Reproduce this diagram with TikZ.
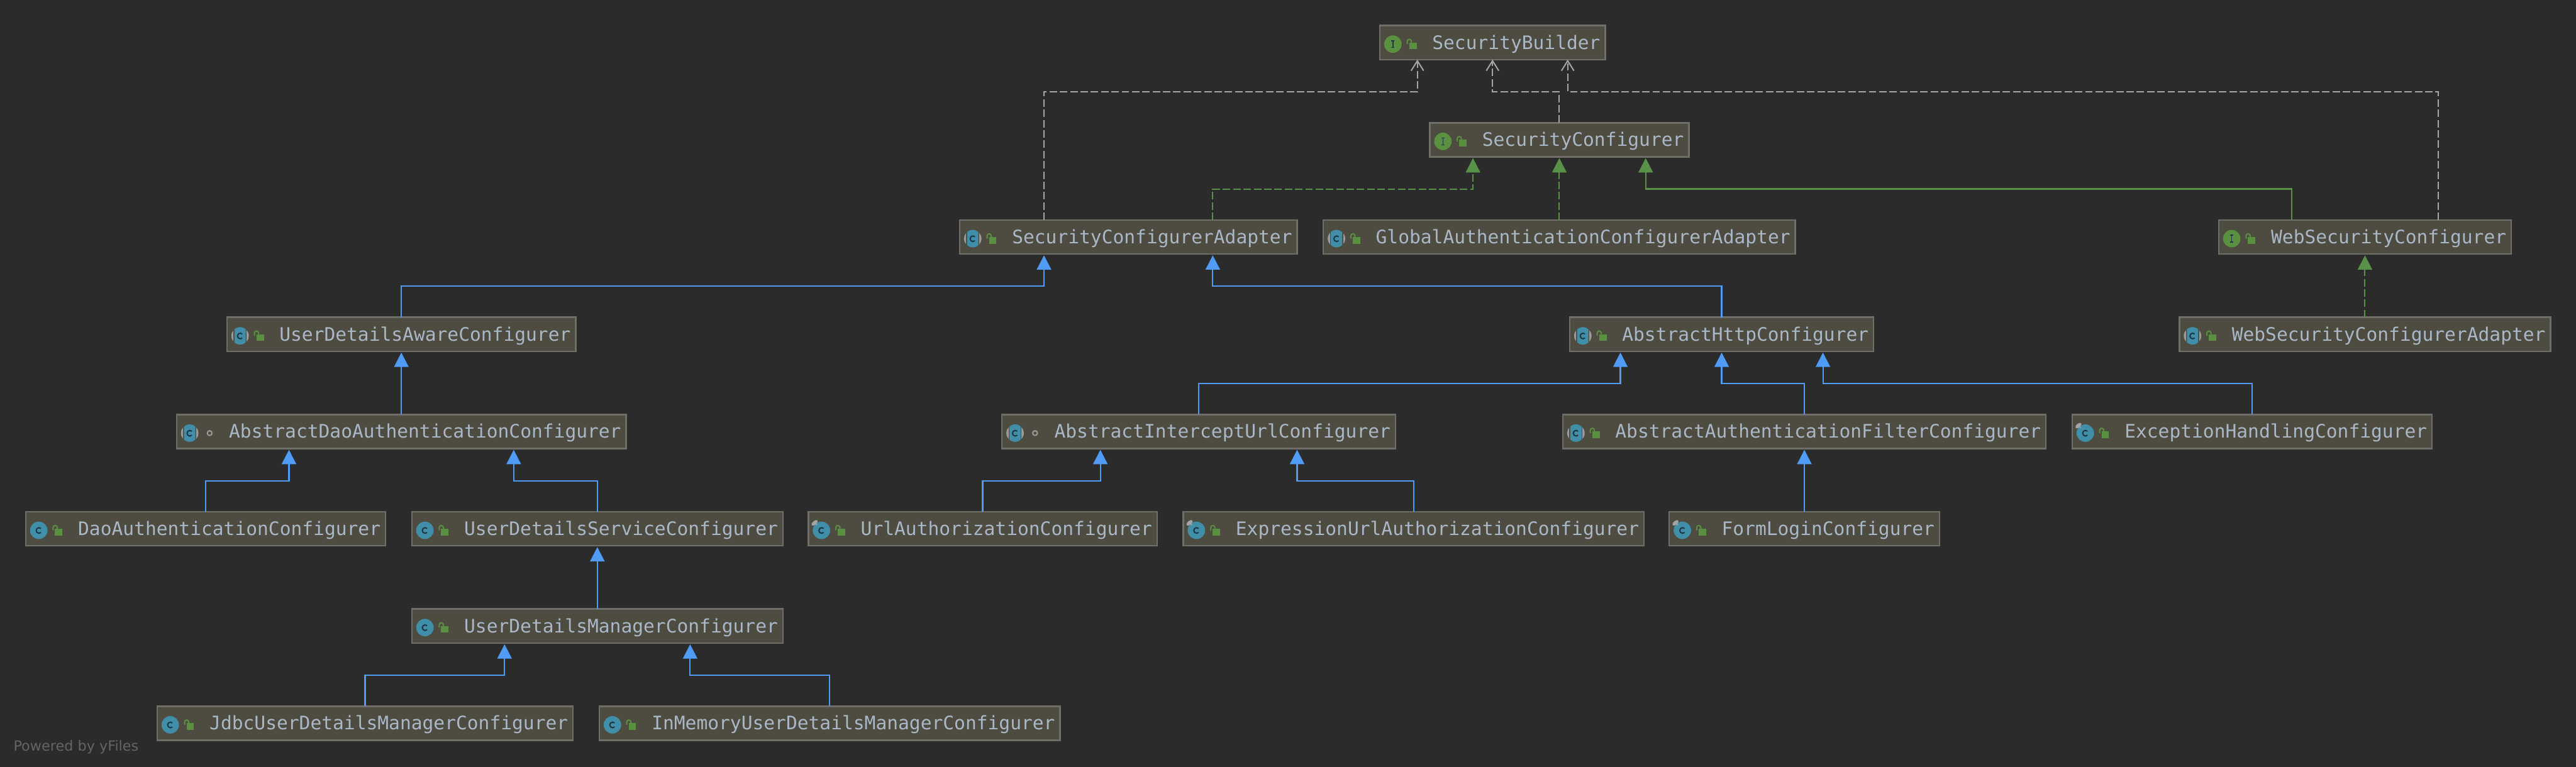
\documentclass[tikz,border=0pt]{standalone}
\usepackage{fontspec}
\setmonofont{DejaVu Sans Mono}
\setsansfont{DejaVu Sans}
\usetikzlibrary{arrows.meta,positioning,calc}
\definecolor{canvasdark}{HTML}{2B2B2B}
\definecolor{boxfill}{HTML}{4E4B40}
\definecolor{boxline}{HTML}{6F6E69}
\definecolor{nametext}{HTML}{A9B7C6}
\definecolor{extblue}{HTML}{4F9BF5}
\definecolor{implgreen}{HTML}{5A9148}
\definecolor{depgray}{HTML}{A6A6A6}
\definecolor{iconteal}{HTML}{418EA8}
\definecolor{iconink}{HTML}{1E3544}
\definecolor{icongreen}{HTML}{5A9140}
\definecolor{icongray}{HTML}{989A9C}
\definecolor{yfilesgray}{HTML}{646464}
% icons are measured from the west anchor of their box
\newcommand{\lockicon}{%
  \fill[icongreen] (4.7mm,0mm) rectangle (5.9mm,-1.05mm);
  \draw[icongreen,line width=.2mm] (4.4mm,-0.25mm) -- (4.4mm,0.2mm) arc[start angle=180,end angle=0,radius=.33mm] -- (5.06mm,0mm);}
\newcommand{\dimicon}{\draw[icongray,line width=.2mm] (5.3mm,-0.25mm) circle (.38mm);}
\newcommand{\cglyph}{\draw[iconink,line width=.2mm] (2.45mm,0.05mm) arc[start angle=45,end angle=315,radius=.45mm];}
\newcommand{\ifaceicon}{%
  \fill[icongreen] (2.1mm,-0.25mm) circle (1.4mm);
  \draw[iconink,line width=.15mm] (2.1mm,0.3mm) -- (2.1mm,-0.8mm) (1.85mm,0.3mm) -- (2.35mm,0.3mm) (1.85mm,-0.8mm) -- (2.35mm,-0.8mm);}
\newcommand{\plainicon}{\fill[iconteal] (2.1mm,-0.25mm) circle (1.4mm);\cglyph}
\newcommand{\abstracticon}{%
  \fill[icongray] (2.1mm,-0.25mm) circle (1.4mm);
  \fill[boxfill] (1.05mm,-1.7mm) rectangle (3.15mm,1.2mm);
  \begin{scope}
    \clip (1.2mm,-1.7mm) rectangle (3.0mm,1.2mm);
    \fill[iconteal] (2.1mm,-0.25mm) circle (1.4mm);
  \end{scope}\cglyph}
\newcommand{\finalicon}{%
  \plainicon
  \draw[icongray!90!white,line width=.15mm] (1.4mm,0.6mm) -- (1.05mm,0.95mm);
  \fill[icongray!90!white,rotate around={40:(1.0mm,0.95mm)}] (1.0mm,0.95mm) ellipse (.6mm and .3mm);}
\begin{document}
\begin{tikzpicture}[
    node distance=10.13mm and 4.2mm,
    box/.style={draw=boxline,fill=boxfill,line width=.25mm,outer sep=0pt,
                minimum height=5.45mm,inner xsep=.8mm,inner ysep=0pt,
                text height=2.3mm,text depth=.2mm,text=nametext,
                font=\ttfamily\fontsize{8.48pt}{10pt}\selectfont,
                execute at begin node=\hspace*{7.6mm}},
    extarr/.style={draw=extblue,line width=.22mm,shorten >=.2mm,-{Triangle[length=2.3mm,width=2.3mm,color=extblue]}},
    implarr/.style={draw=implgreen,line width=.2mm,shorten >=.2mm,dash pattern=on 1.2mm off .45mm,-{Triangle[length=2.3mm,width=2.3mm,color=implgreen]}},
    subarr/.style={draw=implgreen,line width=.22mm,shorten >=.2mm,-{Triangle[length=2.3mm,width=2.3mm,color=implgreen]}},
    deparr/.style={draw=depgray,line width=.2mm,dash pattern=on 1.2mm off .45mm,-{Straight Barb[length=1.6mm,width=2mm]}},
    elbow/.style={to path={|- ($(\tikztotarget)+(0,-5.15mm)$) -- (\tikztotarget)}}
]
\useasboundingbox (0,0) rectangle (412.6mm,-122.8mm);
\fill[canvasdark] (-1mm,1mm) rectangle (414mm,-124mm);

\node[box,anchor=north west] (builder) at (221mm,-4.1mm) {SecurityBuilder};
\node[box,below=of builder,xshift=10.7mm] (conf) {SecurityConfigurer};
\node[box,below=of conf] (global) {GlobalAuthenticationConfigurerAdapter};
\node[box,left=of global] (sca) {SecurityConfigurerAdapter};
\node[box,right=67.8mm of global] (websc) {WebSecurityConfigurer};
\node[box,below=of websc] (wsca) {WebSecurityConfigurerAdapter};

\node[box,below=of sca,xshift=-116.45mm] (uda) {UserDetailsAwareConfigurer};
\node[box,below=of global,xshift=26mm] (http) {AbstractHttpConfigurer};
\node[box,below=of uda] (ad) {AbstractDaoAuthenticationConfigurer};
\node[box,below=of ad,xshift=-31.35mm] (dao) {DaoAuthenticationConfigurer};
\node[box,right=of dao] (uds) {UserDetailsServiceConfigurer};
\node[box,below=of uds] (udm) {UserDetailsManagerConfigurer};
\node[box,below=of udm,xshift=-37.2mm] (jdbc) {JdbcUserDetailsManagerConfigurer};
\node[box,right=of jdbc] (inmem) {InMemoryUserDetailsManagerConfigurer};

\node[box,below=of http,xshift=13.25mm] (aaf) {AbstractAuthenticationFilterConfigurer};
\node[box,left=26.8mm of aaf] (aiu) {AbstractInterceptUrlConfigurer};
\node[box,right=of aaf] (eh) {ExceptionHandlingConfigurer};
\node[box,below=of aaf] (form) {FormLoginConfigurer};
\node[box,below=of aiu,xshift=-34.6mm] (url) {UrlAuthorizationConfigurer};
\node[box,right=of url] (expr) {ExpressionUrlAuthorizationConfigurer};

\node[anchor=base west,text=yfilesgray,font=\sffamily\fontsize{6.4pt}{7pt}\selectfont,inner sep=0pt] (yfiles) at (2.1mm,-120.3mm) {Powered by yFiles};

\foreach \n in {builder,conf,websc}{
  \begin{scope}[shift={(\n.west)}]\ifaceicon\lockicon\end{scope}
}
\foreach \n in {global,sca,wsca,uda,http,aaf}{
  \begin{scope}[shift={(\n.west)}]\abstracticon\lockicon\end{scope}
}
\foreach \n in {ad,aiu}{
  \begin{scope}[shift={(\n.west)}]\abstracticon\dimicon\end{scope}
}
\foreach \n in {dao,uds,udm,jdbc,inmem}{
  \begin{scope}[shift={(\n.west)}]\plainicon\lockicon\end{scope}
}
\foreach \n in {eh,form,url,expr}{
  \begin{scope}[shift={(\n.west)}]\finalicon\lockicon\end{scope}
}

\foreach \n/\f in {builder/.1667,conf/.1667,http/.1667,sca/.25,ad/.25,aiu/.25,udm/.25,websc/.25}{
  \coordinate (\n-l) at ($(\n.south west)!\f!(\n.south east)$);
  \coordinate (\n-r) at ($(\n.south east)!\f!(\n.south west)$);
}

\draw[deparr,elbow] (sca-l |- sca.north) to (builder-l);
\draw[deparr,elbow] (conf.north) to (builder.south);
\draw[deparr,elbow] (websc-r |- websc.north) to (builder-r);
\draw[implarr,elbow] (sca-r |- sca.north) to (conf-l);
\draw[implarr] (global.north) -- (conf.south);
\draw[subarr,elbow] (websc-l |- websc.north) to (conf-r);
\draw[implarr] (wsca.north) -- (websc.south);
\draw[extarr,elbow] (uda.north) to (sca-l);
\draw[extarr,elbow] (http.north) to (sca-r);
\draw[extarr] (ad.north) -- (uda.south);
\draw[extarr,elbow] (dao.north) to (ad-l);
\draw[extarr,elbow] (uds.north) to (ad-r);
\draw[extarr] (udm.north) -- (uds.south);
\draw[extarr,elbow] (jdbc.north) to (udm-l);
\draw[extarr,elbow] (inmem.north) to (udm-r);
\draw[extarr,elbow] (aiu.north) to (http-l);
\draw[extarr,elbow] (aaf.north) to (http.south);
\draw[extarr,elbow] (eh.north) to (http-r);
\draw[extarr,elbow] (url.north) to (aiu-l);
\draw[extarr,elbow] (expr.north) to (aiu-r);
\draw[extarr] (form.north) -- (aaf.south);
\end{tikzpicture}
\end{document}
